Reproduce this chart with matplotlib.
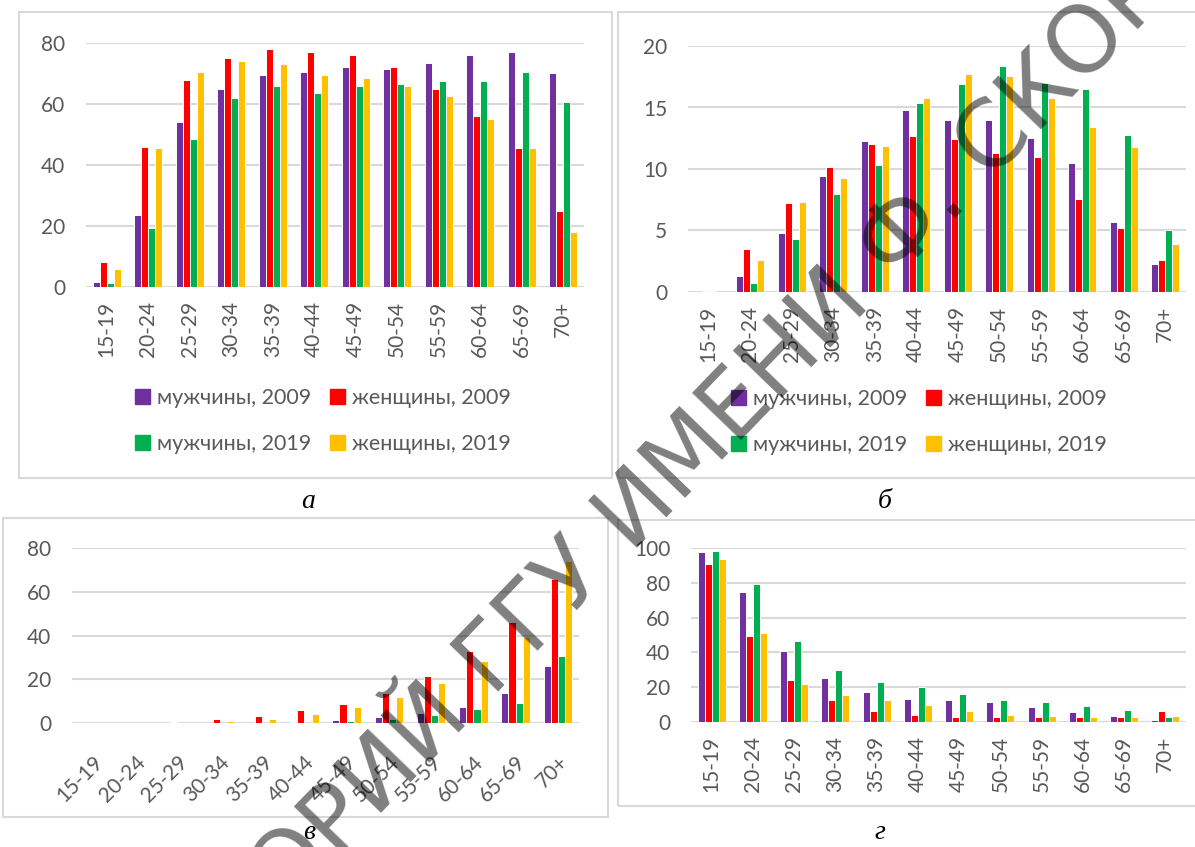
import matplotlib
matplotlib.use("Agg")
import matplotlib.pyplot as plt
from matplotlib.patches import Rectangle, Patch
import numpy as np

W, H = 1195, 847

ages = ["15-19", "20-24", "25-29", "30-34", "35-39", "40-44",
        "45-49", "50-54", "55-59", "60-64", "65-69", "70+"]
labels = ["мужчины, 2009", "женщины, 2009", "мужчины, 2019", "женщины, 2019"]
colors = ["#7030A0", "#FF0000", "#00B050", "#FFC000"]

# panel a
a_m09 = [1.5, 23.5, 54, 65, 69.5, 70.5, 72, 71.5, 73.5, 76, 77, 70]
a_f09 = [8.3, 46, 68, 75, 78, 77, 76, 72, 65, 56, 45.5, 25]
a_m19 = [1.4, 19.5, 48.5, 62, 66, 63.5, 66, 66.5, 67.5, 67.5, 70.5, 60.5]
a_f19 = [6, 45.5, 70.5, 74, 73, 69.5, 68.5, 66, 62.5, 55, 45.5, 18]

# panel б
b_m09 = [0, 1.3, 4.8, 9.4, 12.3, 14.8, 14.0, 14.0, 12.5, 10.5, 5.7, 2.3]
b_f09 = [0.1, 3.5, 7.2, 10.2, 12.0, 12.7, 12.4, 11.3, 11.0, 7.6, 5.2, 2.6]
b_m19 = [0.05, 0.7, 4.3, 8.0, 10.3, 15.4, 16.9, 18.4, 17.0, 16.5, 12.8, 5.0]
b_f19 = [0, 2.6, 7.3, 9.3, 11.9, 15.8, 17.7, 17.6, 15.8, 13.4, 11.8, 3.9]

# panel в
c_m09 = [0, 0, 0, 0, 0.2, 0.6, 1.2, 2.6, 4.8, 7.5, 13.6, 26.2]
c_f09 = [0, 0, 0.5, 1.9, 3.3, 5.8, 8.6, 13.8, 21.5, 33, 46, 66]
c_m19 = [0, 0, 0, 0, 0, 0.1, 0.8, 2.0, 3.7, 6.3, 9.3, 30.8]
c_f19 = [0, 0, 0, 0.8, 1.8, 4.1, 7.2, 12, 18.5, 28.5, 39.5, 74]

# panel г
d_m09 = [97.5, 74.6, 41, 25.4, 17.4, 13.5, 12.5, 11.3, 8.8, 5.9, 3.6, 1.0]
d_f09 = [91, 49.7, 23.9, 12.6, 6.3, 4.2, 2.8, 2.6, 2.6, 2.6, 3.0, 6.2]
d_m19 = [98.5, 79.3, 46.5, 29.6, 23.1, 20.3, 16.1, 12.7, 11.4, 9.1, 6.8, 2.6]
d_f19 = [93.5, 51, 21.8, 15.7, 12.8, 10, 6.3, 4.2, 3.3, 2.6, 2.6, 3.3]

TXT = "#595959"
GRID = "#d9d9d9"
plt.rcParams['font.family'] = ['Lato', 'DejaVu Sans']

fig = plt.figure(figsize=(W / 100, H / 100), dpi=100)


def px_axes(x0, y0, x1, y1):
    return fig.add_axes([x0 / W, 1 - y1 / H, (x1 - x0) / W, (y1 - y0) / H])


def border(x0, y0, x1, y1):
    fig.patches.append(Rectangle((x0 / W, 1 - y1 / H), (x1 - x0) / W, (y1 - y0) / H,
                                 transform=fig.transFigure, fill=False,
                                 edgecolor=GRID, linewidth=1.5, zorder=0))


def draw(ax, series, ymax, step, rot):
    x = np.arange(len(ages))
    bw = 0.17
    for i, s in enumerate(series):
        ax.bar(x + (i - 1.5) * bw, s, bw, color=colors[i], edgecolor="white",
               linewidth=0.7, zorder=3)
    ax.set_xlim(-0.5, len(ages) - 0.5)
    ax.set_ylim(0, ymax)
    ax.set_yticks(np.arange(0, ymax + 1, step))
    ax.yaxis.grid(True, color=GRID, linewidth=1.5, zorder=0)
    for sp in ax.spines.values():
        sp.set_visible(False)
    ax.tick_params(length=0, labelsize=15, colors=TXT)
    ax.tick_params(axis="y", pad=15)
    ax.set_xticks(x)
    if rot == 45:
        ax.set_xticklabels(ages, rotation=45, ha="right", rotation_mode="anchor")
        ax.tick_params(axis="x", pad=21)
    else:
        ax.set_xticklabels(ages, rotation=90)
        ax.tick_params(axis="x", pad=10)


def legend(ax, cx, cy):
    h = [Patch(color=c) for c in colors]
    order = [0, 2, 1, 3]
    ax.legend([h[i] for i in order], [labels[i] for i in order], ncol=2,
              loc="center", bbox_to_anchor=(cx / W, 1 - cy / H),
              bbox_transform=fig.transFigure, frameon=False, fontsize=15.5,
              labelcolor=TXT, handlelength=0.7, handleheight=0.7,
              handletextpad=0.3, columnspacing=0.9, labelspacing=1.2)


border(19, 12, 612, 478)
border(618, 12, 1210, 478)
border(3, 518, 608, 817)
border(618, 520, 1210, 806)

ax1 = px_axes(86, 43, 584, 287)
draw(ax1, [a_m09, a_f09, a_m19, a_f19], 80, 20, 90)
legend(ax1, 323, 421)

ax2 = px_axes(688, 46, 1186, 292)
draw(ax2, [b_m09, b_f09, b_m19, b_f19], 20, 5, 90)
legend(ax2, 919, 422)

ax3 = px_axes(72, 548, 579, 723)
draw(ax3, [c_m09, c_f09, c_m19, c_f19], 80, 20, 45)

ax4 = px_axes(691, 548, 1186, 722)
draw(ax4, [d_m09, d_f09, d_m19, d_f19], 100, 20, 90)

for lab, x, y in [("а", 308, 501), ("б", 885, 501), ("в", 309, 832), ("г", 880, 832)]:
    fig.text(x / W, 1 - y / H, lab, family="Liberation Serif", style="italic",
             fontsize=20, ha="center", va="center", color="black")

# watermark
fig.text(632 / W, 1 - 516 / H, "РЕПОЗИТОРИЙ ГГУ ИМЕНИ Ф. СКОРИНЫ",
         family="DejaVu Sans", fontsize=67, rotation=46,
         rotation_mode="anchor", ha="center", va="center",
         color=(0, 0, 0, 0.5), zorder=10)

fig.savefig("out.png", dpi=100)
